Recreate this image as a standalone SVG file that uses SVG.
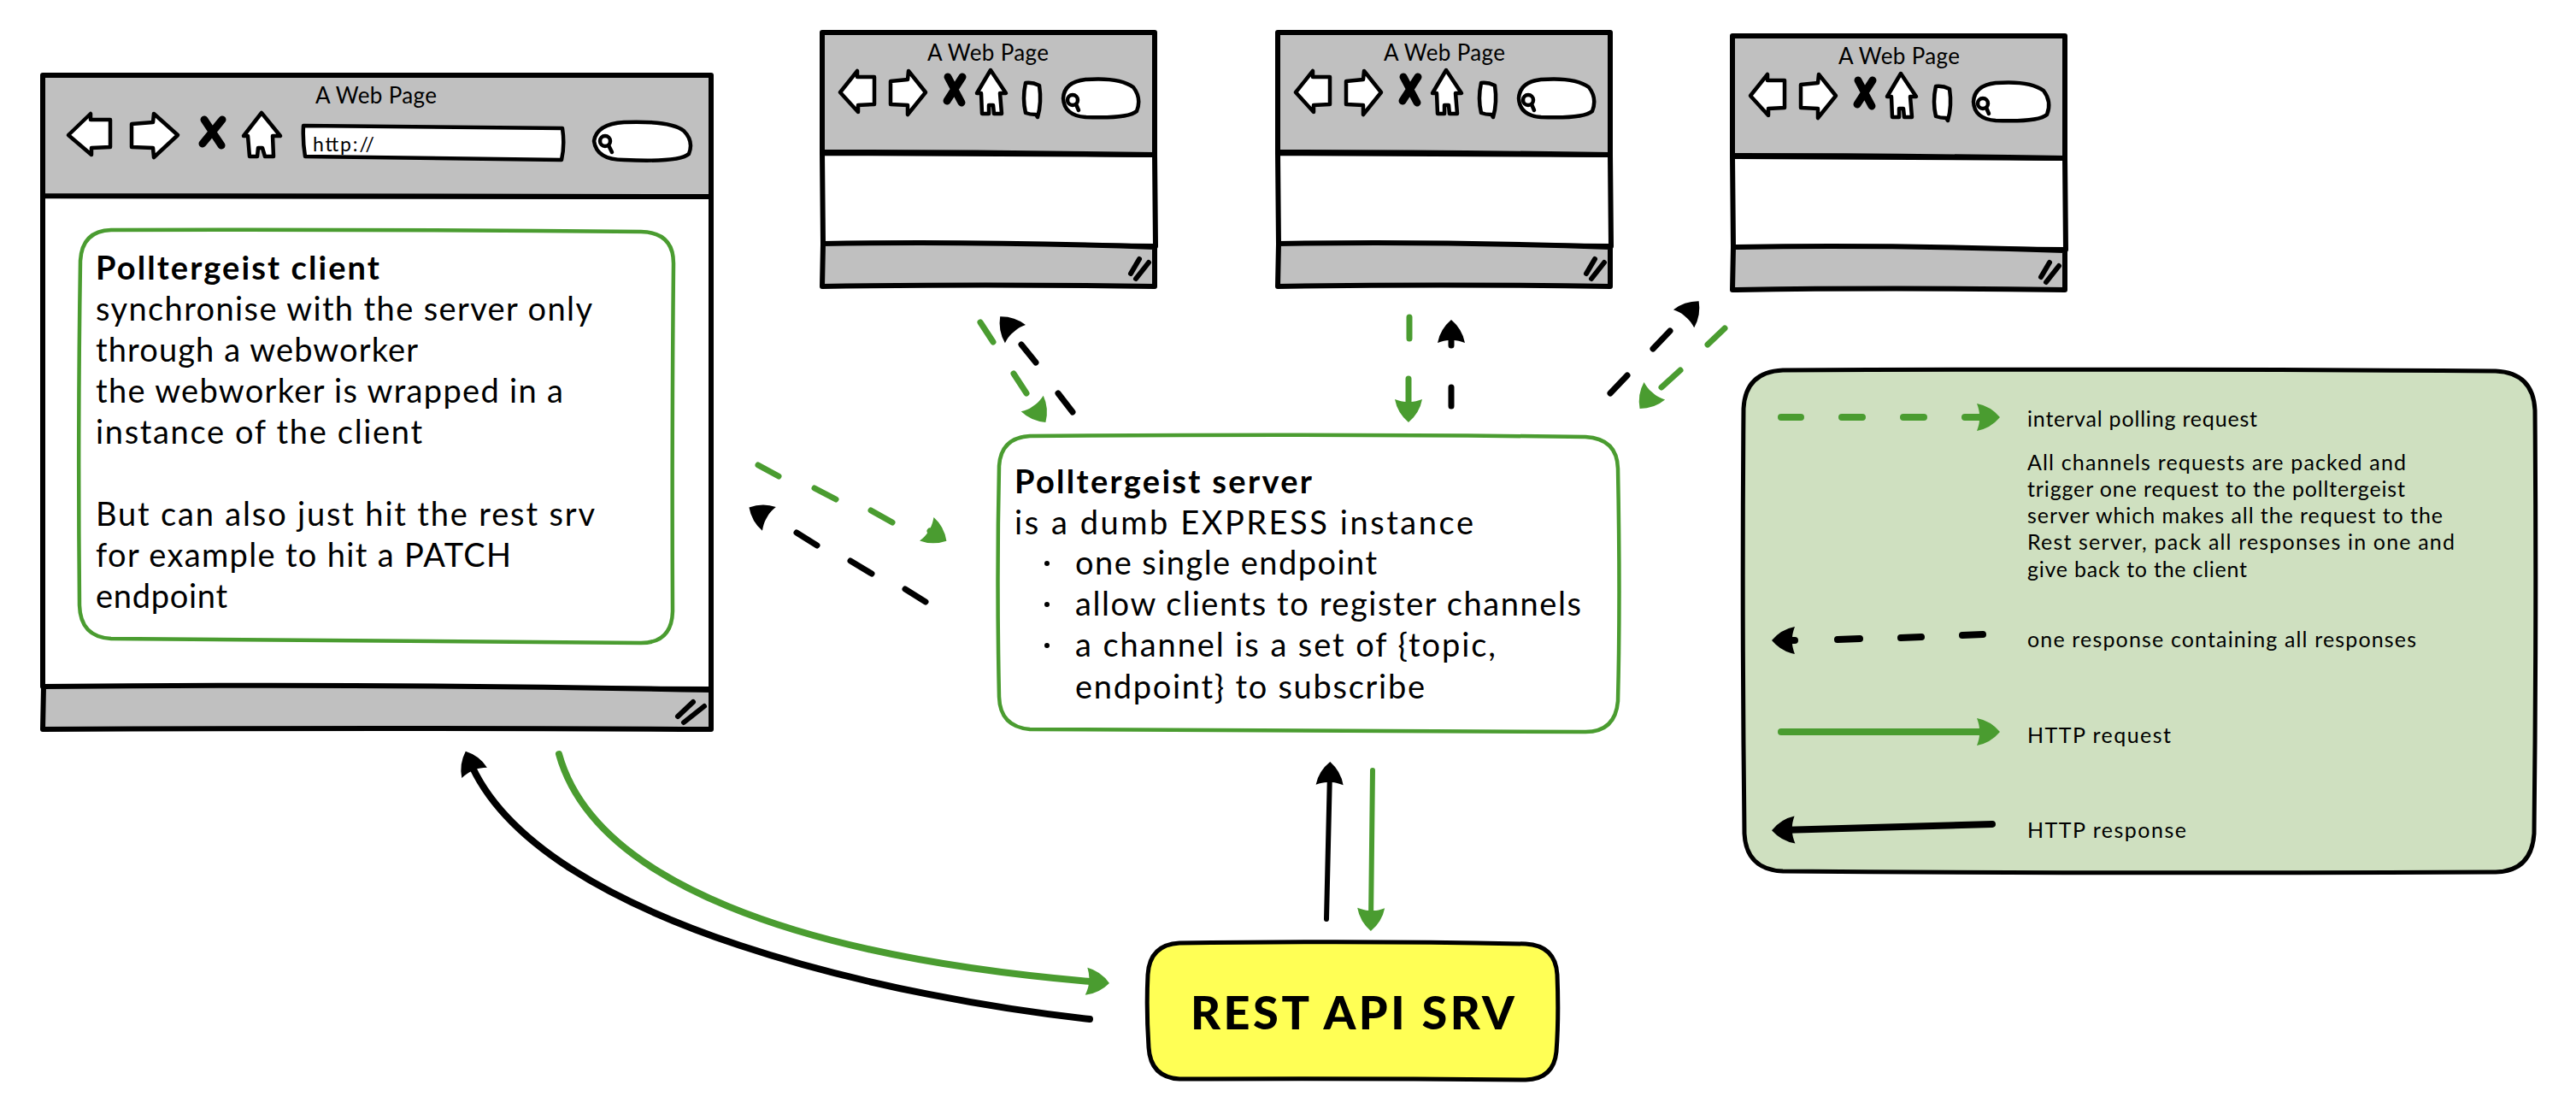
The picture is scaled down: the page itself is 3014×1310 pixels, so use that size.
<svg xmlns="http://www.w3.org/2000/svg" width="3014" height="1310" viewBox="0 0 3014 1310">
<style>
  text { font-family: "Lato", "Liberation Sans", sans-serif; fill: #000; }
  .body { font-size: 38px; }
  .head { font-size: 38px; font-weight: 700; }
  .title { font-size: 26px; }
  .note { font-size: 25px; }
  .rest { font-size: 54px; font-weight: 900; }
  .pane { fill: #fff; stroke: #000; stroke-width: 6; stroke-linejoin: round; }
  .bar { fill: #c0c0c0; stroke: #000; stroke-width: 6; stroke-linejoin: round; }
  .icon { fill: #fff; stroke: #000; stroke-width: 4.5; stroke-linejoin: round; }
  .cross { fill: none; stroke: #000; stroke-width: 9; stroke-linecap: round; }
  .grip { fill: none; stroke: #000; stroke-width: 6; stroke-linecap: round; }
  .lens { fill: none; stroke: #000; stroke-width: 4.5; stroke-linecap: round; }
  .card { fill: #fff; stroke: #4a9c30; stroke-width: 4.5; }
  .k, .g { fill: none; stroke-linecap: round; }
  .k { stroke: #000; marker-end: url(#tip-k); }
  .g { stroke: #4a9c30; marker-end: url(#tip-g); }
  .w8 { stroke-width: 8; }
  .w7 { stroke-width: 7; }
  .w6 { stroke-width: 6; }
</style>
<defs>
  <!-- Arrowheads keep one size whatever the line width; the tip sits 10px past the line's end -->
  <marker id="tip-k" markerUnits="userSpaceOnUse" viewBox="-30 -20 44 40" refX="0" refY="0" markerWidth="44" markerHeight="40" orient="auto">
    <path d="M11,0 Q0,-13 -16,-16 Q-13,-8 -13,-3 L-13,3 Q-13,8 -16,16 Q0,13 11,0 Z" fill="#000"/>
  </marker>
  <marker id="tip-g" markerUnits="userSpaceOnUse" viewBox="-30 -20 44 40" refX="0" refY="0" markerWidth="44" markerHeight="40" orient="auto">
    <path d="M11,0 Q0,-13 -16,-16 Q-13,-8 -13,-3 L-13,3 Q-13,8 -16,16 Q0,13 11,0 Z" fill="#4a9c30"/>
  </marker>

  <!-- Browser chrome for the small windows, drawn at the first window's position -->
  <g id="small-browser">
    <path class="pane" d="M962,179 L1351,181 L1352,288 L963,285 Z"/>
    <path class="bar" d="M962,38 L1351,38 L1351,181 Q1150,178 962,178 Z"/>
    <path class="bar" d="M963,285 Q1150,282 1351,289 L1351,335 Q1150,332 962,335 Z"/>
    <path class="icon" d="M983,108 L1003,83 L1003,90 L1023,90 L1023,122 L1004,123 L1004,131 Z"/>
    <path class="icon" d="M1042,95 L1062,93 L1063,83 L1083,108 L1062,134 L1062,123 L1042,122 Z"/>
    <path class="cross" d="M1109,90 L1125,120 M1126,90 L1108,118"/>
    <path class="icon" d="M1159,82 L1177,109 L1170,109 L1172,133 L1163,133 L1162,123 L1157,123 L1157,133 L1149,133 L1148,109 L1143,109 Z"/>
    <path class="icon" d="M1200,97 Q1208,96 1216,100 Q1219,120 1214,137 L1212,134 Q1205,134 1200,132 Q1196,115 1200,97 Z"/>
    <path class="icon" d="M1270,93 Q1310,90 1326,102 Q1336,115 1330,130 Q1320,139 1270,137 Q1245,135 1244,115 Q1245,96 1270,93 Z"/>
    <circle class="lens" cx="1255" cy="117" r="6"/>
    <path class="lens" d="M1259,122 L1262,129"/>
    <path class="grip" d="M1323,320 L1333,303 M1329,326 L1344,307"/>
  </g>
</defs>

<rect width="3014" height="1310" fill="#fff"/>

<g id="connectors">
  <!-- browser 1 and REST -->
  <path class="k w8" d="M1275,1192 C1070,1170 630,1085 549,889"/>
  <path class="g w8" d="M654,882 C695,1030 930,1120 1287,1149"/>
  <!-- server and REST -->
  <path class="k w6" d="M1552,1075 L1556,902"/>
  <path class="g w6" d="M1606,901 L1604,1078"/>
  <!-- browser 1 and server -->
  <path class="g w7" d="M887,544 L911,557 M953,571 L978,584 M1019,597 L1044,611 M1088,621 L1098,627"/>
  <path class="k w7" d="M1083,704 L1059,689 M1020,671 L995,656 M956,638 L932,623 M893,603 L886,599"/>
  <!-- upper browsers and server -->
  <path class="g w7" d="M1147,377 L1162,400 M1186,437 L1201,460 M1212,478 L1217,485"/>
  <path class="k w7" d="M1255,482 L1238,460 M1212,424 L1195,403 M1183,385 L1177.4,378.6"/>
  <path class="g w7" d="M1649,371 L1649,396 M1648,443 L1648,483"/>
  <path class="k w7" d="M1698,475 L1698,453 M1698,404 L1698,385"/>
  <path class="k w7" d="M1884,460 L1904,439 M1934,408 L1954,387 M1975,367 L1980.5,360.6"/>
  <path class="g w7" d="M2018,384 L1998,403 M1966,433 L1944,453 M1931,463 L1925.6,469.5"/>
</g>

<g id="browser-main">
  <path class="pane" d="M50,229 L832,230 L832,806 L50,803 Z"/>
  <path class="bar" d="M50,88 L832,88 L832,230 Q440,229 50,229 Z"/>
  <path class="bar" d="M51,803 Q450,799 832,807 L832,853 Q450,851 50,853 Z"/>
  <path class="icon" d="M80,158 L106,133 L106,140 L129,140 L129,172 L107,173 L107,181 Z"/>
  <path class="icon" d="M154,145 L179,143 L180,133 L208,158 L180,184 L179,173 L154,172 Z"/>
  <path class="cross" d="M239,140 L259,170 M260,140 L237,168"/>
  <path class="icon" d="M306,132 L328,159 L319,159 L320,183 L310,183 L307,173 L302,173 L301,183 L292,183 L290,159 L285,159 Z"/>
  <path class="icon" d="M355,147 Q500,148 658,150 Q661,170 657,187 L357,183 Q354,165 355,147 Z"/>
  <path class="icon" d="M730,143 Q785,141 800,153 Q812,165 806,180 Q795,190 730,187 Q698,187 695,165 Q698,145 730,143 Z"/>
  <circle class="lens" cx="708" cy="165" r="6"/>
  <path class="lens" d="M712,170 L716,178"/>
  <path class="grip" d="M793,838 L811,821 M800,845 L824,826"/>
  <text class="title" x="369" y="121" textLength="142">A Web Page</text>
  <text x="366" y="177" font-size="23" textLength="72">http://</text>
</g>

<g id="client-card">
  <path class="card" d="M130,269 Q450,268 750,271 Q788,272 788,308 Q786,520 787,715 Q786,752 750,752 Q450,750 130,747 Q94,745 93,708 Q91,500 94,305 Q96,270 130,269 Z"/>
  <text class="head" x="112" y="327" textLength="332">Polltergeist client</text>
  <text class="body" x="112" y="375" textLength="581">synchronise with the server only</text>
  <text class="body" x="112" y="423" textLength="377">through a webworker</text>
  <text class="body" x="112" y="471" textLength="547">the webworker is wrapped in a</text>
  <text class="body" x="112" y="519" textLength="382">instance of the client</text>
  <text class="body" x="112" y="615" textLength="584">But can also just hit the rest srv</text>
  <text class="body" x="112" y="663" textLength="486">for example to hit a PATCH</text>
  <text class="body" x="112" y="711" textLength="154">endpoint</text>
</g>

<g id="browser-a">
  <use href="#small-browser"/>
  <text class="title" x="1085" y="71" textLength="142">A Web Page</text>
</g>
<g id="browser-b">
  <use href="#small-browser" transform="translate(533,0)"/>
  <text class="title" x="1619" y="71" textLength="142">A Web Page</text>
</g>
<g id="browser-c">
  <use href="#small-browser" transform="translate(1065,4)"/>
  <text class="title" x="2151" y="75" textLength="142">A Web Page</text>
</g>

<g id="server-card">
  <path class="card" d="M1205,510 Q1550,507 1855,511 Q1892,513 1893,548 Q1896,700 1893,820 Q1890,856 1855,856 Q1500,855 1205,853 Q1170,850 1169,815 Q1166,680 1169,545 Q1171,512 1205,510 Z"/>
  <text class="head" x="1187" y="577" textLength="348">Polltergeist server</text>
  <text class="body" x="1187" y="625" textLength="537">is a dumb EXPRESS instance</text>
  <circle cx="1225" cy="659" r="3"/>
  <text class="body" x="1258" y="672" textLength="353">one single endpoint</text>
  <circle cx="1225" cy="707" r="3"/>
  <text class="body" x="1258" y="720" textLength="592">allow clients to register channels</text>
  <circle cx="1225" cy="755" r="3"/>
  <text class="body" x="1258" y="768" textLength="492">a channel is a set of {topic,</text>
  <text class="body" x="1258" y="817" textLength="409">endpoint} to subscribe</text>
</g>

<g id="rest-srv">
  <path d="M1380,1103 Q1600,1100 1785,1104 Q1820,1106 1822,1140 Q1824,1190 1821,1230 Q1818,1262 1785,1263 Q1600,1261 1380,1262 Q1346,1260 1344,1225 Q1341,1180 1343,1140 Q1345,1105 1380,1103 Z" fill="#ffff55" stroke="#000" stroke-width="5"/>
  <text class="rest" x="1393" y="1204" textLength="379">REST API SRV</text>
</g>

<g id="legend">
  <path d="M2086,433 Q2500,431 2920,434 Q2964,436 2966,480 Q2968,720 2965,975 Q2962,1019 2920,1020 Q2500,1022 2086,1019 Q2043,1017 2041,975 Q2038,720 2040,478 Q2042,435 2086,433 Z" fill="#cfe0c0" stroke="#000" stroke-width="5"/>
  <path class="g w8" d="M2084,488 L2107,488 M2155,488 L2179,488 M2227,488 L2251,488 M2299,488 L2329,488"/>
  <path class="k w8" d="M2320,742 L2296,743 M2248,745 L2224,746 M2176,747 L2150,748 M2100,749 L2084,749"/>
  <path class="g w8" d="M2084,856 L2329,856"/>
  <path class="k w8" d="M2331,964 L2084,971"/>
  <text class="note" x="2372" y="499" textLength="269">interval polling request</text>
  <text class="note" x="2372" y="550" textLength="443">All channels requests are packed and</text>
  <text class="note" x="2372" y="581" textLength="442">trigger one request to the polltergeist</text>
  <text class="note" x="2372" y="612" textLength="486">server which makes all the request to the</text>
  <text class="note" x="2372" y="643" textLength="500">Rest server, pack all responses in one and</text>
  <text class="note" x="2372" y="675" textLength="257">give back to the client</text>
  <text class="note" x="2372" y="757" textLength="455">one response containing all responses</text>
  <text class="note" x="2372" y="869" textLength="168">HTTP request</text>
  <text class="note" x="2372" y="980" textLength="186">HTTP response</text>
</g>
</svg>
